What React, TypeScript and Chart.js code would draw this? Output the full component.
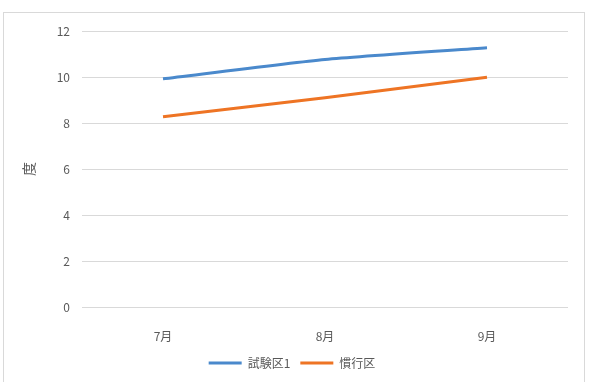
import React, { useEffect, useRef } from "react";
import { Chart, registerables } from "chart.js";

Chart.register(...registerables);

const months = ["7月", "8月", "9月"];
const trialPlot = [9.92, 10.76, 11.27];
const conventionalPlot = [8.27, 9.1, 9.99];
const yTicks = [0, 2, 4, 6, 8, 10, 12];
const seriesNames = ["試験区1", "慣行区"];
const axisTitle = "度";

const FONT = "'Noto Sans CJK JP', 'Noto Sans', sans-serif";
const TEXT = "#595959";

export default function App() {
  const ref = useRef<HTMLCanvasElement | null>(null);

  useEffect(() => {
    document.body.style.margin = "0";
    const canvas = ref.current;
    if (!canvas) return;
    const chart = new Chart(canvas, {
      type: "line",
      data: {
        labels: months,
        datasets: [
          {
            label: seriesNames[0],
            data: trialPlot,
            borderColor: "#4A89CC",
            backgroundColor: "#4A89CC",
            borderWidth: 3,
            pointRadius: 0,
            tension: 0.2,
          },
          {
            label: seriesNames[1],
            data: conventionalPlot,
            borderColor: "#EE7424",
            backgroundColor: "#EE7424",
            borderWidth: 3,
            pointRadius: 0,
            tension: 0.2,
          },
        ],
      },
      options: {
        animation: false,
        responsive: false,
        layout: { padding: { left: 16, right: 27, top: 31, bottom: 3 } },
        scales: {
          x: {
            offset: true,
            grid: { display: false },
            border: { display: false },
            ticks: { color: TEXT, font: { family: FONT, size: 12 }, padding: 14 },
            afterFit: (s: any) => {
              s.height = 40;
            },
          },
          y: {
            min: 0,
            max: 12,
            afterBuildTicks: (s: any) => {
              s.ticks = yTicks.map((v) => ({ value: v }));
            },
            grid: { color: "#d9d9d9", lineWidth: 1, drawTicks: false },
            border: { display: false },
            ticks: { color: TEXT, font: { family: FONT, size: 12 }, padding: 12 },
            title: {
              display: true,
              text: axisTitle,
              color: TEXT,
              font: { family: FONT, size: 14 },
            },
            afterFit: (s: any) => {
              s.width = 66;
            },
          },
        },
        plugins: {
          legend: {
            position: "bottom",
            labels: {
              usePointStyle: true,
              pointStyle: "line",
              pointStyleWidth: 33,
              color: TEXT,
              font: { family: FONT, size: 12 },
              padding: 10,
            },
          },
          tooltip: { enabled: false },
        },
      },
    });
    return () => chart.destroy();
  }, []);

  return (
    <div style={{ position: "relative", width: 595, height: 382, background: "#fff" }}>
      <div
        style={{
          position: "absolute",
          left: 3,
          top: 12,
          width: 582,
          height: 380,
          border: "1px solid #d9d9d9",
          boxSizing: "border-box",
        }}
      />
      <canvas ref={ref} width={595} height={382} style={{ position: "absolute", left: 0, top: 0 }} />
    </div>
  );
}
